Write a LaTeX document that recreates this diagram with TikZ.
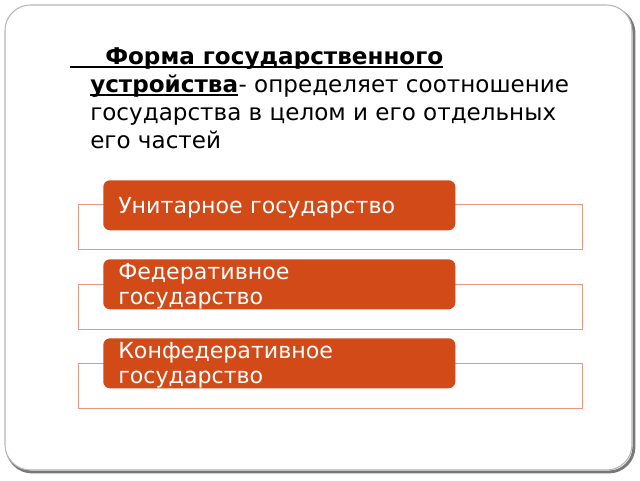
\documentclass[tikz,border=0pt]{standalone}
\usepackage{fontspec}
\setmainfont{DejaVu Sans}
\usetikzlibrary{positioning,calc}
\definecolor{kindfill}{RGB}{210,74,23}
\definecolor{kindline}{RGB}{228,152,124}
\definecolor{slideline}{RGB}{150,150,150}

\begin{document}
\begin{tikzpicture}[x=0.75pt, y=-0.75pt,
	title/.style={anchor=base west, inner sep=0pt, font=\fontsize{17.3}{21}\selectfont},
	kind/.style={anchor=north west, fill=kindfill, rounded corners=5pt, text=white,
		minimum width=264pt, minimum height=37.5pt, inner xsep=11.25pt, inner ysep=0pt,
		text width=241.5pt, text depth=0pt, align=left, font=\fontsize{16.6}{18.75}\selectfont},
	kindtwo/.style={kind, text depth=18.75pt},
	holder/.style={anchor=north west, draw=kindline, line width=0.9pt, fill=white,
		minimum width=378pt, minimum height=33.75pt, inner sep=0pt}
]
\useasboundingbox (0,0) rectangle (640,480);

% slide frame
\draw[slideline!80!black, line width=2.2pt, rounded corners=19pt] (7,8) rectangle (634,472);
\draw[slideline!70, fill=white, line width=0.8pt, rounded corners=19pt] (5,5) rectangle (632,470);

% definition
\node[title] (t1) at (105,64) {\textbf{Форма государственного}};
\node[title] (t2a) at (90,92) {\textbf{устройства}};
\node[title] (t2b) at (t2a.base east) {- определяет соотношение};
\node[title] (t3) at (90,120) {государства в целом и его отдельных};
\node[title] (t4) at (90,148) {его частей};
\draw[line width=1pt] ($(t1.base west)+(-35,3)$) -- ($(t1.base east)+(0,3)$);
\draw[line width=1pt] ($(t2a.base west)+(0,3)$) -- ($(t2a.base east)+(0,3)$);

% kinds
\node[holder] (h1) at (78,204) {};
\node[holder] (h2) at (78,284) {};
\node[holder] (h3) at (78,363) {};
\node[kind] (unit) at (103,180) {Унитарное государство};
\node[kindtwo] (fed) at (103,259) {Федеративное\\государство};
\node[kindtwo] (conf) at (103,338) {Конфедеративное\\государство};
\end{tikzpicture}
\end{document}
